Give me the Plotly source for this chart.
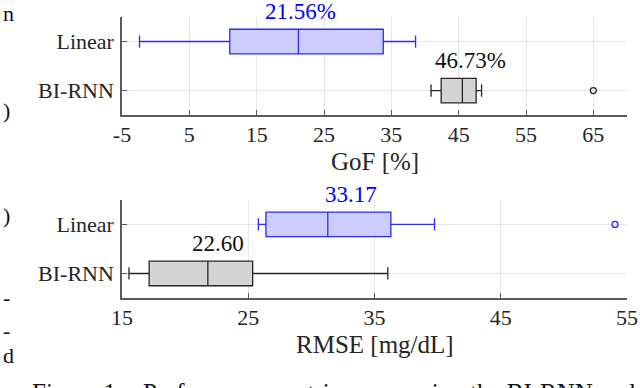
import plotly.graph_objects as go
from plotly.subplots import make_subplots

categories = ["Linear", "BI-RNN"]

# GoF [%] box statistics
gof_low = [-2.4, 40.9]
gof_q1 = [11.0, 42.4]
gof_median = [21.2, 45.55]
gof_q3 = [33.8, 47.6]
gof_high = [38.6, 48.4]
gof_outliers = [[], [65.0]]
gof_labels = [21.56, 46.73]
gof_label_text = ["21.56%", "46.73%"]

# RMSE [mg/dL] box statistics
rmse_low = [25.8, 15.55]
rmse_q1 = [26.4, 17.15]
rmse_median = [31.3, 21.8]
rmse_q3 = [36.3, 25.35]
rmse_high = [39.75, 36.05]
rmse_outliers = [[54.05], []]
rmse_labels = [33.17, 22.60]
rmse_label_text = ["33.17", "22.60"]

gof_ticks = [-5, 5, 15, 25, 35, 45, 55, 65]
rmse_ticks = [15, 25, 35, 45, 55]

line_colors = ["#2b2bff", "#262626"]
fill_colors = ["rgba(204,204,255,1)", "rgba(212,212,212,1)"]
label_colors = ["#0000ff", "#111111"]

FONT = "'Liberation Serif', 'Times New Roman', serif"

fig = make_subplots(rows=2, cols=1, vertical_spacing=0.302)

stats = [
    (gof_low, gof_q1, gof_median, gof_q3, gof_high, gof_outliers, gof_labels, gof_label_text),
    (rmse_low, rmse_q1, rmse_median, rmse_q3, rmse_high, rmse_outliers, rmse_labels, rmse_label_text),
]

for r, (lo, q1, med, q3, hi, outs, labs, labt) in enumerate(stats, start=1):
    for i, cat in enumerate(categories):
        fig.add_trace(go.Box(
            y=[cat], q1=[q1[i]], median=[med[i]], q3=[q3[i]],
            lowerfence=[lo[i]], upperfence=[hi[i]],
            orientation="h", width=0.5, whiskerwidth=0.5,
            fillcolor=fill_colors[i], line=dict(color=line_colors[i], width=1.3),
            boxpoints=False, showlegend=False, hoverinfo="skip",
        ), row=r, col=1)
        if outs[i]:
            fig.add_trace(go.Scatter(
                x=outs[i], y=[cat] * len(outs[i]), mode="markers",
                marker=dict(symbol="circle-open", size=6, color=line_colors[i],
                            line=dict(width=1.3, color=line_colors[i])),
                showlegend=False, hoverinfo="skip", cliponaxis=False,
            ), row=r, col=1)
        xref = "x" if r == 1 else "x2"
        yref = "y" if r == 1 else "y2"
        fig.add_annotation(x=labs[i], y=cat, xref=xref, yref=yref, text=labt[i],
                           showarrow=False, yshift=30, yanchor="middle", xanchor="center",
                           font=dict(family=FONT, size=23, color=label_colors[i]))

axis_common = dict(showline=True, linecolor="#5a5a5a", linewidth=1.5,
                   showgrid=True, gridcolor="#e6e6e6", gridwidth=1,
                   ticks="inside", ticklen=5, tickcolor="#5a5a5a", tickwidth=1.2,
                   tickfont=dict(family=FONT, size=22, color="#262626"),
                   zeroline=False, mirror=False, automargin=False)

fig.update_xaxes(**axis_common, range=[-5, 70], tickvals=gof_ticks,
                 ticktext=[str(t) for t in gof_ticks], ticklabelstandoff=-1, row=1, col=1)
fig.update_xaxes(**axis_common, range=[15, 55], tickvals=rmse_ticks,
                 ticktext=[str(t) for t in rmse_ticks], ticklabelstandoff=-1, row=2, col=1)
for r in (1, 2):
    fig.update_yaxes(**axis_common, type="category", categoryorder="array",
                     categoryarray=["BI-RNN", "Linear"], range=[-0.5, 1.5],
                     ticklabelstandoff=2, row=r, col=1)

fig.update_layout(
    template="none",
    width=640, height=388,
    margin=dict(l=122, r=13, t=17, b=90, pad=0, autoexpand=False),
    paper_bgcolor="white", plot_bgcolor="white",
    boxmode="overlay",
    font=dict(family=FONT, size=22, color="#262626"),
)
fig.update_layout(yaxis=dict(domain=[0.651, 1.0]), yaxis2=dict(domain=[0.0, 0.349]))

# axis titles
fig.add_annotation(x=0.5, y=(298 - 161) / 281, xref="paper", yref="paper", text="GoF [%]",
                   showarrow=False, xanchor="center", yanchor="middle",
                   font=dict(family=FONT, size=25, color="#262626"))
fig.add_annotation(x=0.5, y=(298 - 344) / 281, xref="paper", yref="paper", text="RMSE [mg/dL]",
                   showarrow=False, xanchor="center", yanchor="middle",
                   font=dict(family=FONT, size=25, color="#262626"))

# cropped surrounding page text fragments
frag_text = ["n", ")", ")", "-", "-", "d"]
frag_y = [13, 110, 215, 297, 330, 355]
for t, yp in zip(frag_text, frag_y):
    fig.add_annotation(x=(1 - 122) / 505, y=(298 - yp) / 281, xref="paper", yref="paper",
                       text=t, showarrow=False, xanchor="left", yanchor="middle",
                       font=dict(family=FONT, size=22, color="#111111"))
caption_parts = ["Figure 1:", "Performance metrics comparing the BI-RNN and"]
caption_x = [30, 141]
for t, xp in zip(caption_parts, caption_x):
    fig.add_annotation(x=(xp - 122) / 505, y=(298 - 377) / 281, xref="paper", yref="paper",
                       text=t, showarrow=False, xanchor="left", yanchor="top",
                       font=dict(family=FONT, size=25, color="#111111"))

fig.write_html("out.html", config={"displayModeBar": False},
               post_script="document.body.style.margin='0';document.body.style.overflow='hidden';")
